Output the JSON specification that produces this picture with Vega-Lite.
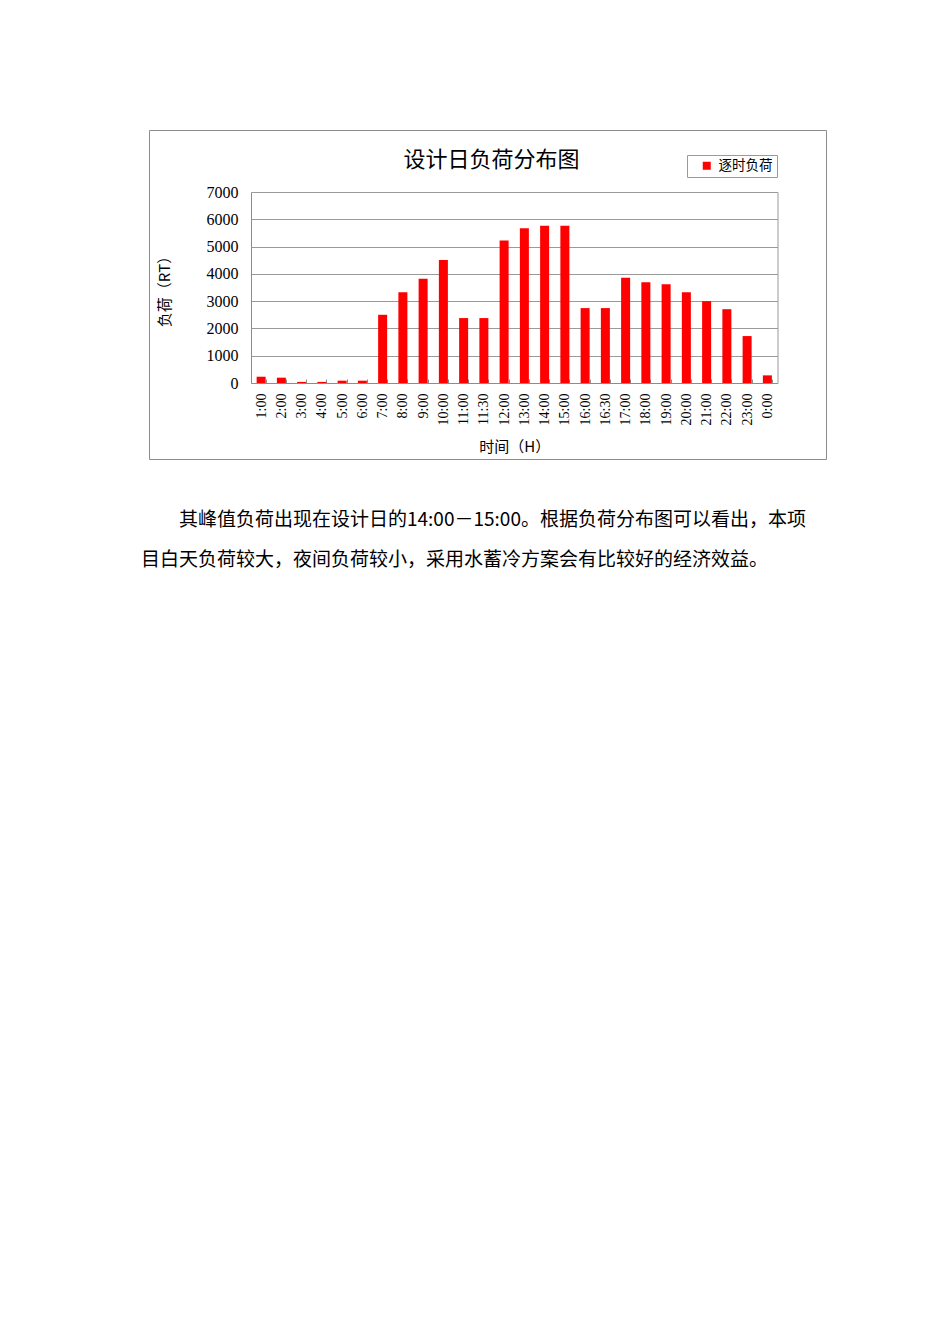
{
  "$schema": "https://vega.github.io/schema/vega-lite/v6.json",
  "background": "white",
  "padding": {"left": 141, "top": 129, "right": 20, "bottom": 20},
  "title": {
    "text": [
      "\u200b\u3000\u3000其峰值负荷出现在设计日的14:00－15:00。根据负荷分布图可以看出，本项",
      "目白天负荷较大，夜间负荷较小，采用水蓄冷方案会有比较好的经济效益。"
    ],
    "orient": "bottom",
    "anchor": "start",
    "frame": "group",
    "offset": 51,
    "dx": -8,
    "baseline": "top",
    "font": "Noto Sans CJK SC",
    "fontSize": 19,
    "fontWeight": "normal",
    "lineHeight": 40,
    "color": "#000000"
  },
  "vconcat": [
    {
      "width": 677,
      "height": 329,
      "title": {
        "text": "设计日负荷分布图",
        "anchor": "middle",
        "frame": "group",
        "offset": -51.5,
        "baseline": "middle",
        "dx": 4,
        "font": "Noto Sans CJK SC",
        "fontSize": 22,
        "fontWeight": "normal",
        "color": "#000000"
      },
      "data": {
        "values": [
          {"time": "1:00", "load": 230, "series": "逐时负荷"},
          {"time": "2:00", "load": 195, "series": "逐时负荷"},
          {"time": "3:00", "load": 40, "series": "逐时负荷"},
          {"time": "4:00", "load": 40, "series": "逐时负荷"},
          {"time": "5:00", "load": 85, "series": "逐时负荷"},
          {"time": "6:00", "load": 85, "series": "逐时负荷"},
          {"time": "7:00", "load": 2500, "series": "逐时负荷"},
          {"time": "8:00", "load": 3330, "series": "逐时负荷"},
          {"time": "9:00", "load": 3820, "series": "逐时负荷"},
          {"time": "10:00", "load": 4510, "series": "逐时负荷"},
          {"time": "11:00", "load": 2380, "series": "逐时负荷"},
          {"time": "11:30", "load": 2380, "series": "逐时负荷"},
          {"time": "12:00", "load": 5220, "series": "逐时负荷"},
          {"time": "13:00", "load": 5670, "series": "逐时负荷"},
          {"time": "14:00", "load": 5760, "series": "逐时负荷"},
          {"time": "15:00", "load": 5760, "series": "逐时负荷"},
          {"time": "16:00", "load": 2745, "series": "逐时负荷"},
          {"time": "16:30", "load": 2745, "series": "逐时负荷"},
          {"time": "17:00", "load": 3855, "series": "逐时负荷"},
          {"time": "18:00", "load": 3695, "series": "逐时负荷"},
          {"time": "19:00", "load": 3620, "series": "逐时负荷"},
          {"time": "20:00", "load": 3330, "series": "逐时负荷"},
          {"time": "21:00", "load": 3000, "series": "逐时负荷"},
          {"time": "22:00", "load": 2705, "series": "逐时负荷"},
          {"time": "23:00", "load": 1720, "series": "逐时负荷"},
          {"time": "0:00", "load": 280, "series": "逐时负荷"}
        ]
      },
      "layer": [
        {
          "mark": {"type": "bar", "color": "#FF0000"},
          "encoding": {
            "x": {
              "field": "time",
              "type": "nominal",
              "sort": null,
              "scale": {"range": [102, 628.5], "paddingInner": 0.555, "paddingOuter": 0.278},
              "axis": {
                "title": "时间（H）",
                "titleFont": "Noto Sans CJK SC",
                "titleFontSize": 15,
                "titleFontWeight": "normal",
                "titleColor": "#000000",
                "titlePadding": 15,
                "labelAngle": 270,
                "labelFont": "Liberation Serif",
                "labelFontSize": 14,
                "labelColor": "#000000",
                "labelPadding": 14,
                "offset": -76,
                "domainColor": "#8c8c8c",
                "tickColor": "#8c8c8c",
                "tickSize": -4,
                "tickBand": "extent",
                "grid": false
              }
            },
            "y": {
              "field": "load",
              "type": "quantitative",
              "scale": {"domain": [0, 7000], "range": [253, 62], "nice": false},
              "axis": {
                "title": "负荷（RT）",
                "titleFont": "Noto Sans CJK SC",
                "titleFontSize": 15,
                "titleFontWeight": "normal",
                "titleColor": "#000000",
                "titlePadding": 34,
                "values": [0, 1000, 2000, 3000, 4000, 5000, 6000, 7000],
                "format": "d",
                "labelFont": "Liberation Serif",
                "labelFontSize": 16,
                "labelColor": "#000000",
                "labelPadding": 13,
                "ticks": false,
                "offset": -102,
                "grid": true,
                "gridColor": "#9a9a9a",
                "domainColor": "#8c8c8c"
              }
            },
            "color": {
              "field": "series",
              "type": "nominal",
              "scale": {"range": ["#FF0000"]},
              "legend": {
                "orient": "none",
                "legendX": 538,
                "legendY": 25,
                "title": null,
                "symbolType": "square",
                "symbolSize": 64,
                "symbolStrokeWidth": 0,
                "symbolOffset": 9,
                "labelOffset": 5,
                "labelFont": "Noto Sans CJK SC",
                "labelFontSize": 13.5,
                "labelColor": "#000000",
                "strokeColor": "#9a9a9a",
                "fillColor": "white",
                "padding": 4
              }
            }
          }
        },
        {
          "mark": {"type": "bar", "opacity": 0},
          "encoding": {
            "x": {"field": "time", "type": "nominal", "sort": null},
            "y": {
              "field": "load",
              "type": "quantitative",
              "axis": {
                "orient": "right",
                "offset": -48.5,
                "labels": false,
                "ticks": false,
                "grid": false,
                "title": null,
                "domainColor": "#9a9a9a"
              }
            }
          }
        }
      ],
      "resolve": {"axis": {"y": "independent"}}
    }
  ],
  "config": {
    "view": {"stroke": "#8c8c8c", "strokeWidth": 1}
  }
}
